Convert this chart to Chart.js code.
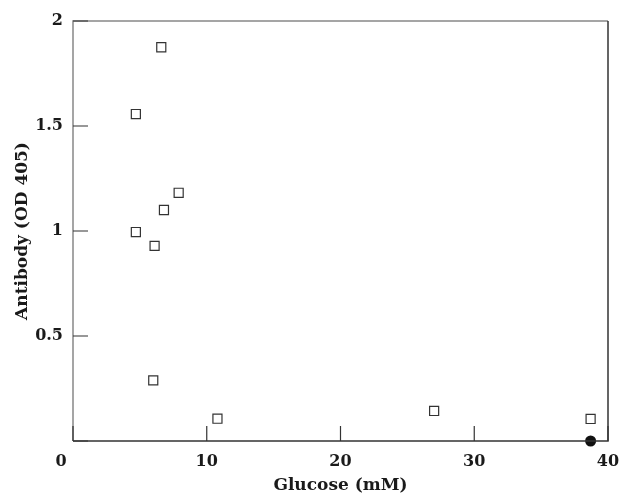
<!DOCTYPE html>
<html>
<head>
<meta charset="utf-8">
<script src="https://cdn.jsdelivr.net/npm/chart.js@4"></script>
<style>
  html, body { margin: 0; padding: 0; background: #fff; }
  #wrap { width: 620px; height: 495px; }
</style>
</head>
<body>
<div id="wrap"><canvas id="myChart"></canvas></div>
<script>
// values
const glucose  = [6.6, 4.7, 7.9, 6.8, 4.7, 6.1, 6.0, 10.8, 27.0, 38.7];
const antibody = [1.875, 1.557, 1.182, 1.10, 0.995, 0.929, 0.289, 0.106, 0.143, 0.105];
const filledX = [38.7];
const filledY = [0.0];
const xTicks = [0, 10, 20, 30, 40];
const yTicks = [0, 0.5, 1, 1.5, 2];

const font = 'DejaVu Serif';

// box round the plot and short inward ticks
const frame = {
  id: 'frame',
  afterDatasetsDraw(chart) {
    const {ctx, chartArea: a, scales: {x, y}} = chart;
    ctx.save();
    ctx.lineWidth = 1.5;
    ctx.strokeStyle = '#888';
    ctx.beginPath();
    ctx.moveTo(a.left, a.bottom); ctx.lineTo(a.left, a.top); ctx.lineTo(a.right, a.top);
    ctx.stroke();
    ctx.strokeStyle = '#333';
    ctx.beginPath();
    ctx.moveTo(a.left, a.bottom); ctx.lineTo(a.right, a.bottom); ctx.lineTo(a.right, a.top);
    ctx.stroke();
    ctx.lineWidth = 1.2;
    ctx.beginPath();
    xTicks.forEach(v => {
      const px = x.getPixelForValue(v);
      ctx.moveTo(px, a.bottom); ctx.lineTo(px, a.bottom - 15);
    });
    yTicks.forEach(v => {
      const py = y.getPixelForValue(v);
      ctx.moveTo(a.left, py); ctx.lineTo(a.left + 15, py);
    });
    ctx.stroke();
    ctx.restore();
  }
};

new Chart(document.getElementById('myChart'), {
  type: 'scatter',
  data: {
    datasets: [{
      data: glucose.map((g, i) => ({x: g, y: antibody[i]})),
      pointStyle: 'rect',
      pointRadius: 6.4,
      pointBorderWidth: 1.2,
      pointBorderColor: '#333',
      pointBackgroundColor: '#fff',
      clip: false
    }, {
      data: filledX.map((g, i) => ({x: g, y: filledY[i]})),
      pointStyle: 'circle',
      pointRadius: 5.5,
      pointBorderWidth: 0,
      pointBackgroundColor: '#111',
      clip: false
    }]
  },
  plugins: [frame],
  options: {
    responsive: true,
    maintainAspectRatio: false,
    animation: false,
    layout: { padding: { top: 21, right: 0, left: 0, bottom: 0 } },
    plugins: { legend: { display: false }, tooltip: { enabled: false } },
    scales: {
      x: {
        type: 'linear',
        min: 0, max: 40,
        afterFit: s => { s.height = 54; s.paddingRight = 12; },
        afterBuildTicks: s => { s.ticks = xTicks.map(v => ({value: v})); },
        grid: { display: false, drawTicks: false },
        border: { display: false },
        ticks: {
          padding: 11,
          color: '#1a1a1a',
          font: { family: font, size: 16, weight: 'bold' },
          maxRotation: 0,
          callback: v => v === 0 ? '0\u2003\u2002' : String(v)
        },
        title: {
          display: true,
          text: 'Glucose (mM)',
          color: '#1a1a1a',
          font: { family: font, size: 17, weight: 'bold', lineHeight: 1 },
          padding: { top: 0, bottom: 1 }
        }
      },
      y: {
        type: 'linear',
        min: 0, max: 2,
        afterFit: s => { s.width = 73; },
        afterBuildTicks: s => { s.ticks = yTicks.map(v => ({value: v})); },
        grid: { display: false, drawTicks: false },
        border: { display: false },
        ticks: {
          padding: 10,
          color: '#1a1a1a',
          font: { family: font, size: 16, weight: 'bold' },
          callback: v => v === 0 ? '' : String(v)
        },
        title: {
          display: true,
          text: 'Antibody (OD 405)',
          color: '#1a1a1a',
          font: { family: font, size: 17, weight: 'bold', lineHeight: 1 },
          padding: { top: 14, bottom: 0 }
        }
      }
    }
  }
});
</script>
</body>
</html>
